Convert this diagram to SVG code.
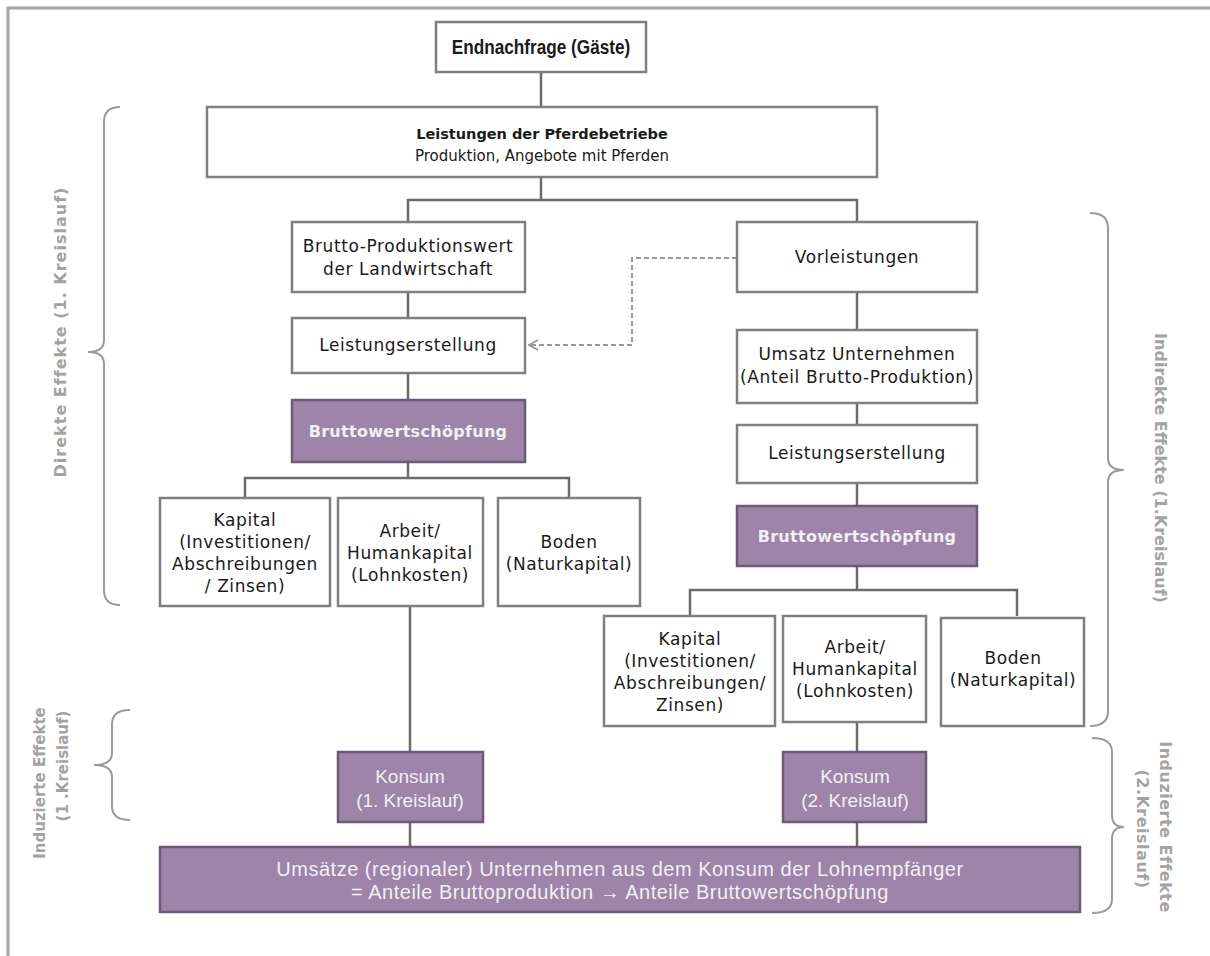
<svg xmlns="http://www.w3.org/2000/svg" width="1210" height="956" viewBox="0 0 1210 956">
<defs>
<style>
.box{fill:#ffffff;stroke:#808080;stroke-width:2.5}
.pbox{fill:#9d84a8;stroke:#6e5a78;stroke-width:2.5}
.t{font-family:"DejaVu Sans","Liberation Sans",sans-serif;font-size:17px;letter-spacing:0.6px;fill:#1a1a1a;text-anchor:middle}
.tb{font-family:"DejaVu Sans","Liberation Sans",sans-serif;font-size:14.5px;font-weight:bold;fill:#1a1a1a;text-anchor:middle}
.tt{font-family:"Liberation Sans",Arial,sans-serif;font-size:20px;font-weight:bold;fill:#1a1a1a;text-anchor:middle}
.pt{font-family:"DejaVu Sans","Liberation Sans",sans-serif;font-size:16px;letter-spacing:0.3px;font-weight:bold;fill:#f4eff6;text-anchor:middle}
.ct{font-family:"Liberation Sans",Arial,sans-serif;font-size:19px;fill:#f4eff6;text-anchor:middle}
.bt{font-family:"Liberation Sans",Arial,sans-serif;font-size:20px;letter-spacing:0.5px;fill:#f4eff6;text-anchor:middle}
.lab{font-family:"DejaVu Sans","Liberation Sans",sans-serif;font-size:16px;font-weight:bold;fill:#a3a3a3;text-anchor:middle;dominant-baseline:central}
.ln{fill:none;stroke:#6b6b6b;stroke-width:2.5}
.br{fill:none;stroke:#9a9a9a;stroke-width:2}
</style>
<marker id="arr" viewBox="0 0 12 12" refX="11" refY="6" markerWidth="12" markerHeight="12" markerUnits="userSpaceOnUse" orient="auto">
<path d="M2,1 L11,6 L2,11" fill="none" stroke="#999999" stroke-width="1.8"/>
</marker>
</defs>
<rect width="1210" height="956" fill="#ffffff"/>
<path d="M8,956 L8,8 L1210,8" fill="none" stroke="#a6a6a6" stroke-width="3"/>

<g id="connectors">
<path class="ln" d="M541,72 V107"/>
<path class="ln" d="M541,177 V200 M408,222 V200 H857 V222"/>
<path class="ln" d="M408,292 V318 M408,373 V400"/>
<path class="ln" d="M408,462 V478 M245,498 V478 H569 V498"/>
<path class="ln" d="M410,606 V752 M410,822 V847"/>
<path class="ln" d="M857,292 V330 M857,403 V425 M857,483 V506"/>
<path class="ln" d="M857,566 V590 M690,616 V590 H1017 V616"/>
<path class="ln" d="M857,722 V752 M857,822 V847"/>
<path d="M737,258 H632 V345 H529" fill="none" stroke="#999999" stroke-width="2" stroke-dasharray="5,3" marker-end="url(#arr)"/>
</g>

<g id="endnachfrage"><rect class="box" x="436" y="22" width="210" height="50"/><text class="tt" transform="translate(541,54) scale(0.86,1)">Endnachfrage (Gäste)</text></g>
<g id="leistungen"><rect class="box" x="207" y="107" width="670" height="70"/><text class="tb" x="542" y="139">Leistungen der Pferdebetriebe</text><text class="t" x="542" y="161" style="font-size:15px;letter-spacing:0">Produktion, Angebote mit Pferden</text></g>

<g id="brutto-produktionswert"><rect class="box" x="292" y="222" width="233" height="70"/><text class="t" x="408" y="252">Brutto-Produktionswert</text><text class="t" x="408" y="275">der Landwirtschaft</text></g>
<g id="leistungserstellung-1"><rect class="box" x="292" y="318" width="233" height="55"/><text class="t" x="408" y="351">Leistungserstellung</text></g>
<g id="bws-1"><rect class="pbox" x="292" y="400" width="233" height="62"/><text class="pt" x="408" y="437">Bruttowertschöpfung</text></g>

<g id="kapital-1"><rect class="box" x="160" y="498" width="170" height="108"/><text class="t" x="245" y="526">Kapital</text><text class="t" x="245" y="548">(Investitionen/</text><text class="t" x="245" y="570">Abschreibungen</text><text class="t" x="245" y="592">/ Zinsen)</text></g>
<g id="arbeit-1"><rect class="box" x="338" y="498" width="145" height="108"/><text class="t" x="410" y="537">Arbeit/</text><text class="t" x="410" y="559">Humankapital</text><text class="t" x="410" y="581">(Lohnkosten)</text></g>
<g id="boden-1"><rect class="box" x="498" y="498" width="142" height="108"/><text class="t" x="569" y="548">Boden</text><text class="t" x="569" y="570">(Naturkapital)</text></g>

<g id="vorleistungen"><rect class="box" x="737" y="222" width="240" height="70"/><text class="t" x="857" y="263">Vorleistungen</text></g>
<g id="umsatz"><rect class="box" x="737" y="330" width="240" height="73"/><text class="t" x="857" y="360">Umsatz Unternehmen</text><text class="t" x="857" y="383">(Anteil Brutto-Produktion)</text></g>
<g id="leistungserstellung-2"><rect class="box" x="737" y="425" width="240" height="58"/><text class="t" x="857" y="459">Leistungserstellung</text></g>
<g id="bws-2"><rect class="pbox" x="737" y="506" width="240" height="60"/><text class="pt" x="857" y="542">Bruttowertschöpfung</text></g>

<g id="kapital-2"><rect class="box" x="604" y="616" width="171" height="110"/><text class="t" x="690" y="645">Kapital</text><text class="t" x="690" y="667">(Investitionen/</text><text class="t" x="690" y="689">Abschreibungen/</text><text class="t" x="690" y="711">Zinsen)</text></g>
<g id="arbeit-2"><rect class="box" x="783" y="616" width="143" height="106"/><text class="t" x="855" y="653">Arbeit/</text><text class="t" x="855" y="675">Humankapital</text><text class="t" x="855" y="697">(Lohnkosten)</text></g>
<g id="boden-2"><rect class="box" x="941" y="618" width="143" height="108"/><text class="t" x="1013" y="664">Boden</text><text class="t" x="1013" y="686">(Naturkapital)</text></g>

<g id="konsum-1"><rect class="pbox" x="338" y="752" width="145" height="70"/><text class="ct" x="410" y="783">Konsum</text><text class="ct" x="410" y="807">(1. Kreislauf)</text></g>
<g id="konsum-2"><rect class="pbox" x="783" y="752" width="143" height="70"/><text class="ct" x="855" y="783">Konsum</text><text class="ct" x="855" y="807">(2. Kreislauf)</text></g>
<g id="umsaetze"><rect class="pbox" x="160" y="847" width="920" height="65"/><text class="bt" x="620" y="876">Umsätze (regionaler) Unternehmen aus dem Konsum der Lohnempfänger</text><text class="bt" x="620" y="899">= Anteile Bruttoproduktion  →  Anteile Bruttowertschöpfung</text></g>

<g id="brace-direkt"><path class="br" d="M120,107 Q104,107 104,122 L104,340 Q104,352 88,352 Q104,352 104,364 L104,590 Q104,605 120,605"/><text class="lab" style="letter-spacing:1px" transform="translate(60,332) rotate(-90)">Direkte Effekte (1. Kreislauf)</text></g>
<g id="brace-indirekt"><path class="br" d="M1090,213 Q1108,213 1108,228 L1108,458 Q1108,470 1124,470 Q1108,470 1108,482 L1108,711 Q1108,726 1090,726"/><text class="lab" transform="translate(1160,468) rotate(90)">Indirekte Effekte (1.Kreislauf)</text></g>
<g id="brace-induziert-1"><path class="br" d="M130,710 Q112,710 112,724 L112,753 Q112,765 94,765 Q112,765 112,777 L112,806 Q112,820 130,820"/><text class="lab" style="font-size:15px" transform="translate(40,783) rotate(-90)">Induzierte Effekte</text><text class="lab" style="font-size:15px" transform="translate(63,766) rotate(-90)">(1 .Kreislauf)</text></g>
<g id="brace-induziert-2"><path class="br" d="M1092,738 Q1112,738 1112,752 L1112,815 Q1112,827 1124,827 Q1112,827 1112,839 L1112,899 Q1112,913 1092,913"/><text class="lab" style="letter-spacing:0.5px" transform="translate(1165,827) rotate(90)">Induzierte Effekte</text><text class="lab" style="letter-spacing:0.5px" transform="translate(1142,829) rotate(90)">(2.Kreislauf)</text></g>
</svg>
